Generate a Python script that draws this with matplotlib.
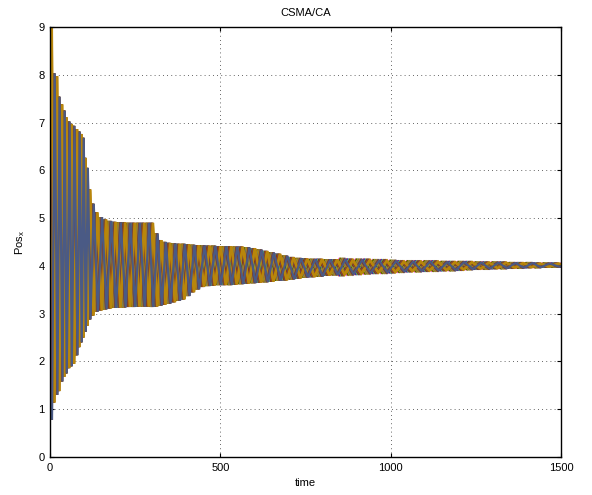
import numpy as np
import matplotlib
matplotlib.use("Agg")
import matplotlib.pyplot as plt

# ---- data (estimated) ----
# swing times of the agents' zig-zag and the band (upper / lower) values at those times
swing_t = [0, 7, 15, 23, 29, 38, 44, 50, 59, 65, 73, 82, 88, 94, 100, 106, 112, 120,
           130, 142, 155, 168, 182, 196, 210, 224, 238, 252, 266, 280, 293, 305, 318,
           330, 342, 356, 370, 384, 398, 412, 426, 440, 456, 472, 488, 504, 520, 536,
           552, 570, 588, 606, 624, 642, 660, 680, 700, 720, 740, 760, 782, 804, 826,
           848, 870, 895, 920, 945, 970, 995, 1020, 1045, 1070, 1095, 1120, 1145, 1170,
           1195, 1220, 1245, 1270, 1295, 1320, 1345, 1370, 1395, 1420, 1445, 1470, 1500]
band_hi = [9.00, 8.03, 7.97, 7.54, 7.38, 7.25, 7.11, 7.02, 6.97, 6.93, 6.86, 6.81, 6.76,
           6.68, 6.26, 6.05, 5.60, 5.30, 5.12, 5.02, 4.97, 4.94, 4.92, 4.91, 4.91, 4.90,
           4.90, 4.90, 4.90, 4.90, 4.90, 4.68, 4.54, 4.50, 4.48, 4.47, 4.46, 4.46, 4.45,
           4.44, 4.43, 4.43, 4.42, 4.42, 4.41, 4.41, 4.41, 4.40, 4.40, 4.39, 4.37, 4.34,
           4.31, 4.28, 4.25, 4.21, 4.18, 4.16, 4.15, 4.14, 4.14, 4.13, 4.13, 4.13, 4.12,
           4.12, 4.12, 4.11, 4.11, 4.10, 4.09, 4.09, 4.09, 4.09, 4.09, 4.08, 4.08, 4.08,
           4.08, 4.07, 4.07, 4.07, 4.07, 4.06, 4.06, 4.06, 4.05, 4.05, 4.05, 4.05]
band_lo = [0.80, 1.14, 1.30, 1.38, 1.58, 1.68, 1.75, 1.86, 1.90, 1.95, 2.13, 2.30, 2.40,
           2.50, 2.62, 2.75, 2.88, 2.96, 3.04, 3.07, 3.09, 3.11, 3.12, 3.13, 3.13, 3.14,
           3.14, 3.15, 3.15, 3.15, 3.14, 3.15, 3.17, 3.19, 3.21, 3.24, 3.27, 3.30, 3.37,
           3.45, 3.51, 3.56, 3.58, 3.59, 3.60, 3.60, 3.60, 3.61, 3.62, 3.63, 3.64, 3.65,
           3.66, 3.67, 3.69, 3.70, 3.72, 3.74, 3.76, 3.77, 3.78, 3.80, 3.81, 3.82, 3.83,
           3.84, 3.85, 3.86, 3.86, 3.87, 3.88, 3.89, 3.89, 3.90, 3.90, 3.91, 3.91, 3.92,
           3.93, 3.94, 3.94, 3.95, 3.95, 3.96, 3.96, 3.97, 3.97, 3.98, 3.98, 3.98]

# agents: delay (fraction of a swing interval), starting phase (0 top / 1 bottom), colour
agent_delay = [0.00, 0.04, 0.08, 0.12, 0.16, 0.20, 0.24, 0.28, 0.32, 0.36, 0.40, 0.44,
               0.48, 0.52, 0.56, 0.60, 0.64, 0.68, 0.72, 0.76, 0.80, 0.84]
agent_phase = [0, 1, 0, 1, 0, 1, 0, 1, 0, 1, 0, 1, 0, 1, 0, 1, 0, 1, 0, 1, 0, 1]
agent_color = ['#ff0000', '#ff00ff', '#4a5a85', '#b8860b', '#0000ff', '#008000',
               '#b8860b', '#993300', '#00c0c0', '#c0c000', '#993300', '#4a5a85',
               '#993300', '#b8860b', '#4a5a85', '#b8860b', '#993300', '#4a5a85',
               '#b8860b', '#993300', '#b8860b', '#4a5a85']

# ---- figure ----
plt.rcParams['font.family'] = ['Liberation Sans', 'DejaVu Sans']
fig = plt.figure(figsize=(5.92, 4.95), dpi=100)
ax = fig.add_axes([0.0845, 0.0768, 0.8631, 0.8687])

t_arr = np.array(swing_t, dtype=float)
step = np.append(np.diff(t_arr), t_arr[-1] - t_arr[-2])
hi = np.array(band_hi)
lo = np.array(band_lo)
idx = np.arange(len(t_arr))
for d, ph, col in zip(agent_delay, agent_phase, agent_color):
    vals = np.where((idx + ph) % 2 == 0, hi, lo)
    ax.plot(t_arr + d * step, vals, color=col, linewidth=1.6, solid_joinstyle='miter')

ax.set_xlim(0, 1500)
ax.set_ylim(0, 9)
ax.set_xticks([0, 500, 1000, 1500])
ax.set_yticks(range(0, 10))
ax.grid(True, linestyle=(0, (1, 4)), color='#333333', linewidth=0.6)
ax.tick_params(direction='in', top=True, right=True, labelsize=8, length=3, width=0.8, pad=4)
for s in ax.spines.values():
    s.set_linewidth(1.0)
ax.set_title('CSMA/CA', fontsize=8, pad=8)
ax.set_xlabel('time', fontsize=8, labelpad=4)
ax.set_ylabel('Pos$_\\mathregular{x}$', fontsize=8, labelpad=8)

fig.savefig('out.png', dpi=100)
